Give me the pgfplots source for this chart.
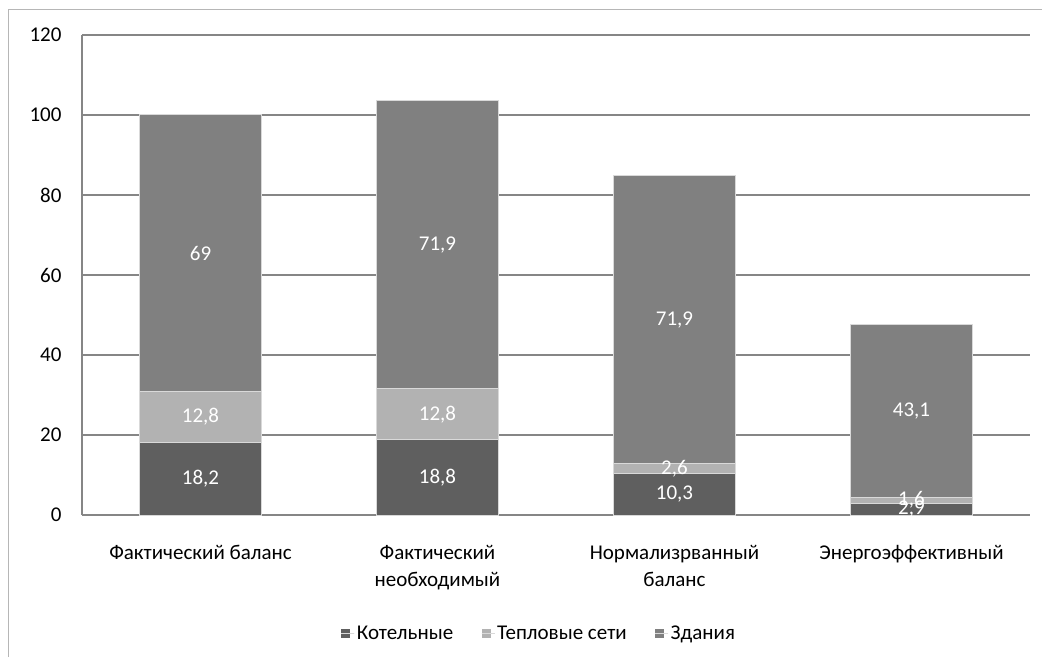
\documentclass[border=0pt]{standalone}
\usepackage{pgfplots}
\pgfplotsset{compat=1.18}
\usepackage{fontspec}
\setmainfont{Carlito}
\definecolor{cKot}{HTML}{5F5F5F}
\definecolor{cTep}{HTML}{B2B2B2}
\definecolor{cZd}{HTML}{808080}
\definecolor{cGrid}{HTML}{868686}
\definecolor{cEdge}{HTML}{D9D9D9}
\pgfplotsset{sqlegend/.style={legend image code/.code={\fill[##1,draw=none] (0pt,-4.5pt) rectangle (9pt,4.5pt); \path (0pt,0pt) -- (13pt,0pt);}}}
\begin{document}
\begin{tikzpicture}
\useasboundingbox (0pt,0pt) rectangle (1042pt,657pt);
\draw[cGrid!60, line width=1pt] (8pt,0pt) -- (8pt,647pt) -- (1042pt,647pt);
\begin{axis}[
  at={(82pt,142pt)}, anchor=south west,
  scale only axis, width=948pt, height=480pt,
  ybar stacked, bar width=0.515,
  xmin=-0.5, xmax=3.5, ymin=0, ymax=120,
  xtick={0,1,2,3},
  xticklabels={Фактический баланс,{Фактический\\необходимый},{Нормализрванный\\баланс},Энергоэффективный},
  ytick={0,20,40,60,80,100,120},
  /pgf/number format/assume math mode=true,
  ymajorgrids, grid style={cGrid, line width=1.2pt},
  axis x line*=bottom, axis y line*=left,
  x axis line style={cGrid, line width=2pt},
  y axis line style={cGrid, line width=1.2pt},
  xtick style={draw=none},
  ytick style={cGrid, line width=1.2pt},
  major tick length=6pt,
  tick label style={font=\fontsize{21}{27}\selectfont, text=black},
  xticklabel style={align=center, anchor=north, yshift=-27pt},
  yticklabel style={anchor=east, xshift=-17pt},
  visualization depends on={rawy \as \rawy},
  nodes near coords={\pgfmathprintnumber[fixed,precision=1,use comma]{\rawy}},
  every node near coord/.append style={font=\fontsize{21}{24}\selectfont, text=white, anchor=center},
  legend style={at={(0.482,-0.246)}, anchor=center, draw=none, fill=none, legend columns=3,
    font=\fontsize{21}{24}\selectfont, /tikz/every even column/.append style={column sep=26pt}},
  clip=false,
]
\addplot[fill=cKot, draw=cEdge, line width=1pt, sqlegend] coordinates {(0,18.2) (1,18.8) (2,10.3) (3,2.9)};
\addplot[fill=cTep, draw=cEdge, line width=1pt, sqlegend] coordinates {(0,12.8) (1,12.8) (2,2.6) (3,1.6)};
\addplot[fill=cZd, draw=cEdge, line width=1pt, sqlegend] coordinates {(0,69) (1,71.9) (2,71.9) (3,43.1)};
\legend{Котельные,Тепловые сети,Здания}
\end{axis}
\end{tikzpicture}
\end{document}
